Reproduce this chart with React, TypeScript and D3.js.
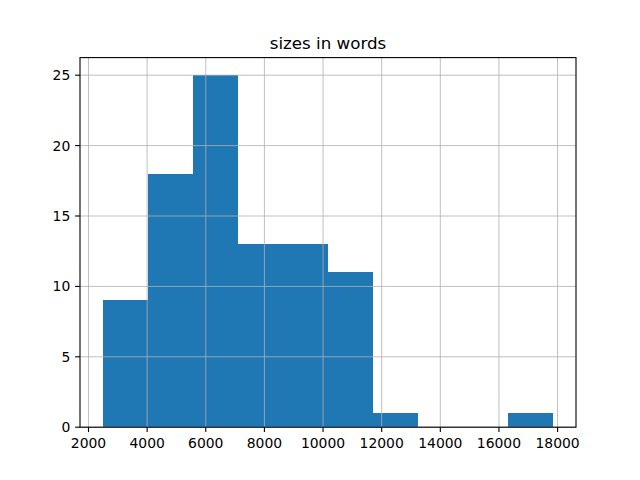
import React from "react";
import * as d3 from "d3";

const binEdges = [2479, 4017, 5555, 7093, 8631, 10169, 11707, 13245, 14783, 16321, 17859];
const counts = [9, 18, 25, 13, 13, 11, 1, 0, 0, 1];
const xTicks = [2000, 4000, 6000, 8000, 10000, 12000, 14000, 16000, 18000];
const yTicks = [0, 5, 10, 15, 20, 25];
const title = "sizes in words";

export default function App() {
  const W = 640, H = 480;
  const left = 80, right = 576, top = 57.6, bottom = 427.2;
  const xMin = binEdges[0], xMax = binEdges[binEdges.length - 1];
  const pad = (xMax - xMin) * 0.05;
  const x = d3.scaleLinear().domain([xMin - pad, xMax + pad]).range([left, right]);
  const yMax = d3.max(counts)! * 1.05;
  const y = d3.scaleLinear().domain([0, yMax]).range([bottom, top]);
  const font = "DejaVu Sans, sans-serif";
  return (
    <svg width={W} height={H} style={{ position: "absolute", left: 0, top: 0 }}>
      <rect width={W} height={H} fill="white" />
      {counts.map((c, i) =>
        c > 0 ? (
          <rect key={i} x={x(binEdges[i])} width={x(binEdges[i + 1]) - x(binEdges[i])}
            y={y(c)} height={y(0) - y(c)} fill="#1f77b4" shapeRendering="crispEdges" />
        ) : null
      )}
      {xTicks.map((t) => (
        <line key={"gx" + t} x1={x(t)} x2={x(t)} y1={top} y2={bottom} stroke="#b0b0b0" strokeWidth={0.8} />
      ))}
      {yTicks.map((t) => (
        <line key={"gy" + t} x1={left} x2={right} y1={y(t)} y2={y(t)} stroke="#b0b0b0" strokeWidth={0.8} />
      ))}
      <rect x={left} y={top} width={right - left} height={bottom - top} fill="none" stroke="black" strokeWidth={1.1} />
      {xTicks.map((t) => (
        <g key={"tx" + t}>
          <line x1={x(t)} x2={x(t)} y1={bottom} y2={bottom + 4.9} stroke="black" strokeWidth={1.1} />
          <text x={x(t)} y={bottom + 20.5} fontSize={13.9} fontFamily={font} textAnchor="middle" fill="black">{t}</text>
        </g>
      ))}
      {yTicks.map((t) => (
        <g key={"ty" + t}>
          <line x1={left - 4.9} x2={left} y1={y(t)} y2={y(t)} stroke="black" strokeWidth={1.1} />
          <text x={left - 9.7} y={y(t)} dy="0.36em" fontSize={13.9} fontFamily={font} textAnchor="end" fill="black">{t}</text>
        </g>
      ))}
      <text x={(left + right) / 2} y={top - 8.3} fontSize={16.7} fontFamily={font} textAnchor="middle" fill="black">{title}</text>
    </svg>
  );
}
